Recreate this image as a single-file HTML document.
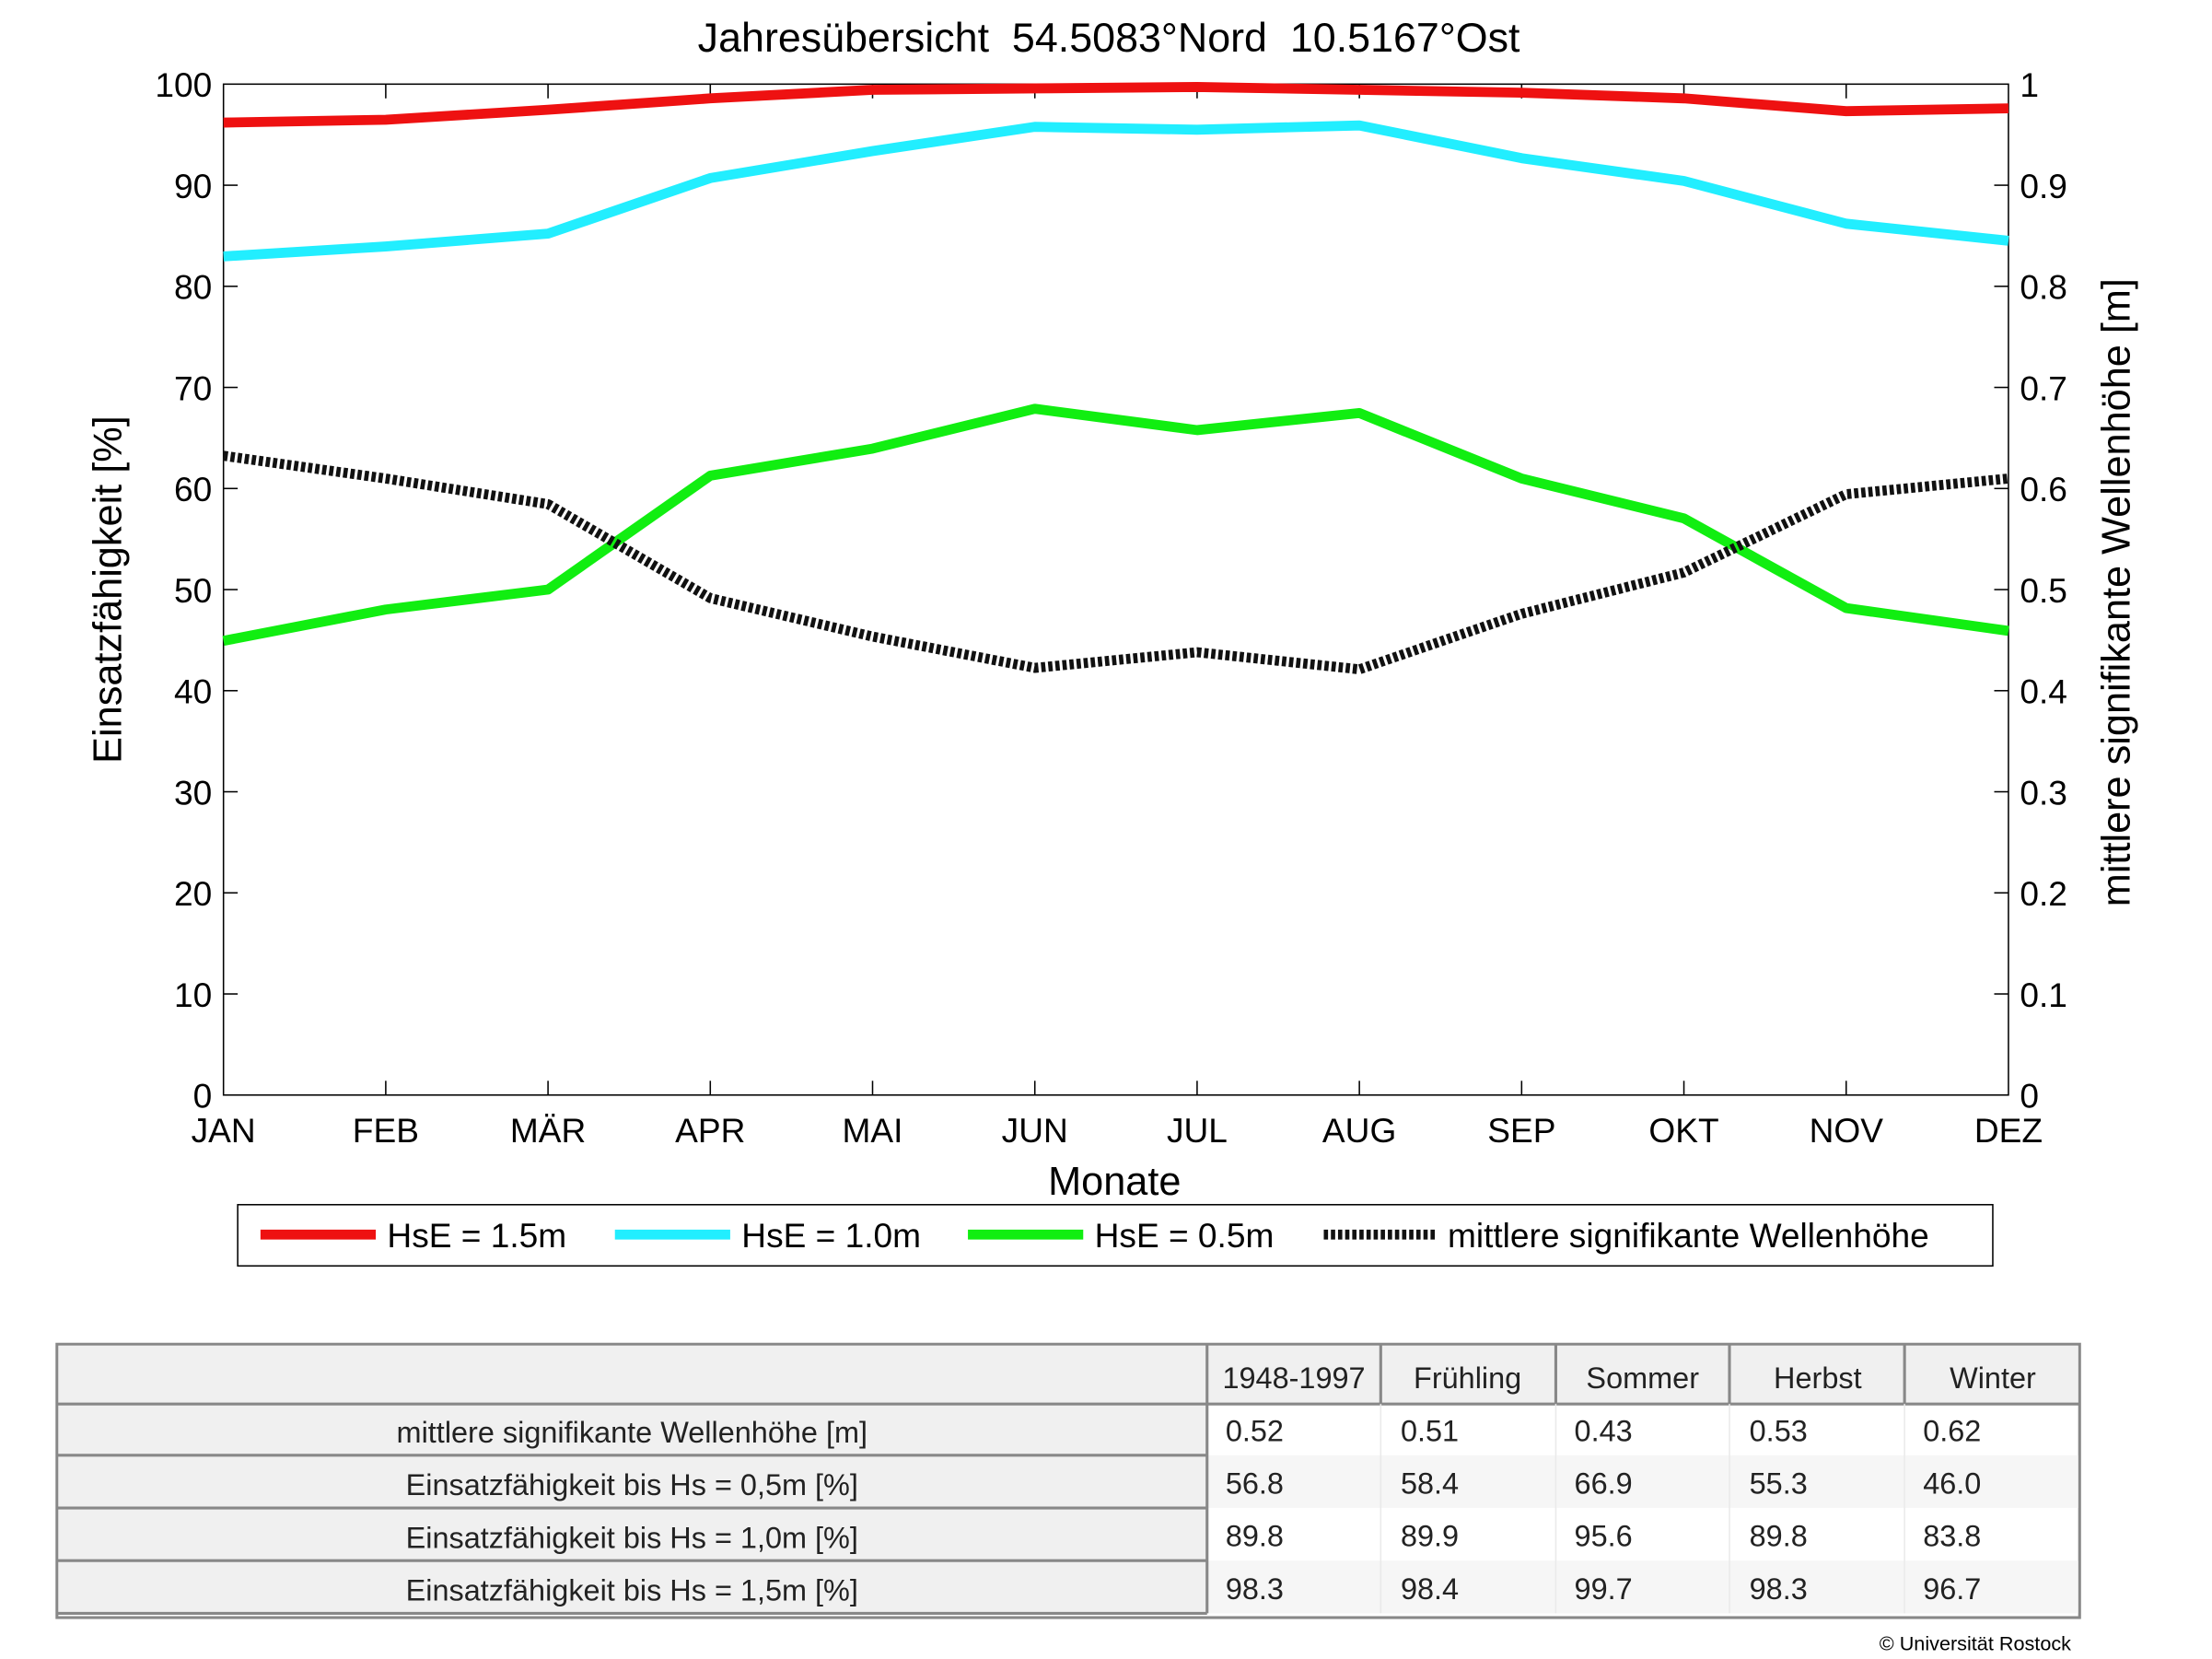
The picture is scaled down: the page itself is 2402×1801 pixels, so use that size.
<!DOCTYPE html>
<html><head><meta charset="utf-8"><style>html,body{margin:0;padding:0;background:#fff}svg{display:block}</style></head>
<body>
<svg width="2402" height="1801" viewBox="0 0 1554 1165" xmlns="http://www.w3.org/2000/svg" font-family="'Liberation Sans', Arial, sans-serif">
<rect width="1554" height="1165" fill="#fff"/>
<text x="779" y="36" font-size="29" text-anchor="middle">Jahresübersicht&#160;&#160;54.5083°Nord&#160;&#160;10.5167°Ost</text>
<rect x="157" y="59" width="1254" height="710" fill="none" stroke="#000" stroke-width="1"/>
<g stroke="#000" stroke-width="1">
<line x1="157" y1="130" x2="167" y2="130"/><line x1="157" y1="201" x2="167" y2="201"/><line x1="157" y1="272" x2="167" y2="272"/><line x1="157" y1="343" x2="167" y2="343"/><line x1="157" y1="414" x2="167" y2="414"/><line x1="157" y1="485" x2="167" y2="485"/><line x1="157" y1="556" x2="167" y2="556"/><line x1="157" y1="627" x2="167" y2="627"/><line x1="157" y1="698" x2="167" y2="698"/>
<line x1="1401" y1="130" x2="1411" y2="130"/><line x1="1401" y1="201" x2="1411" y2="201"/><line x1="1401" y1="272" x2="1411" y2="272"/><line x1="1401" y1="343" x2="1411" y2="343"/><line x1="1401" y1="414" x2="1411" y2="414"/><line x1="1401" y1="485" x2="1411" y2="485"/><line x1="1401" y1="556" x2="1411" y2="556"/><line x1="1401" y1="627" x2="1411" y2="627"/><line x1="1401" y1="698" x2="1411" y2="698"/>
<line x1="271" y1="769" x2="271" y2="759"/><line x1="385" y1="769" x2="385" y2="759"/><line x1="499" y1="769" x2="499" y2="759"/><line x1="613" y1="769" x2="613" y2="759"/><line x1="727" y1="769" x2="727" y2="759"/><line x1="841" y1="769" x2="841" y2="759"/><line x1="955" y1="769" x2="955" y2="759"/><line x1="1069" y1="769" x2="1069" y2="759"/><line x1="1183" y1="769" x2="1183" y2="759"/><line x1="1297" y1="769" x2="1297" y2="759"/>
<line x1="271" y1="59" x2="271" y2="69"/><line x1="385" y1="59" x2="385" y2="69"/><line x1="499" y1="59" x2="499" y2="69"/><line x1="613" y1="59" x2="613" y2="69"/><line x1="727" y1="59" x2="727" y2="69"/><line x1="841" y1="59" x2="841" y2="69"/><line x1="955" y1="59" x2="955" y2="69"/><line x1="1069" y1="59" x2="1069" y2="69"/><line x1="1183" y1="59" x2="1183" y2="69"/><line x1="1297" y1="59" x2="1297" y2="69"/>
</g>
<g font-size="24" text-anchor="end">
<text x="149" y="68">100</text><text x="149" y="139">90</text><text x="149" y="210">80</text><text x="149" y="281">70</text><text x="149" y="352">60</text><text x="149" y="423">50</text><text x="149" y="494">40</text><text x="149" y="565">30</text><text x="149" y="636">20</text><text x="149" y="707">10</text><text x="149" y="778">0</text>
</g>
<g font-size="24">
<text x="1419" y="68">1</text><text x="1419" y="139">0.9</text><text x="1419" y="210">0.8</text><text x="1419" y="281">0.7</text><text x="1419" y="352">0.6</text><text x="1419" y="423">0.5</text><text x="1419" y="494">0.4</text><text x="1419" y="565">0.3</text><text x="1419" y="636">0.2</text><text x="1419" y="707">0.1</text><text x="1419" y="778">0</text>
</g>
<g font-size="24" text-anchor="middle">
<text x="157" y="802">JAN</text><text x="271" y="802">FEB</text><text x="385" y="802">MÄR</text><text x="499" y="802">APR</text><text x="613" y="802">MAI</text><text x="727" y="802">JUN</text><text x="841" y="802">JUL</text><text x="955" y="802">AUG</text><text x="1069" y="802">SEP</text><text x="1183" y="802">OKT</text><text x="1297" y="802">NOV</text><text x="1411" y="802">DEZ</text>
</g>
<text x="783" y="839" font-size="28" text-anchor="middle">Monate</text>
<text transform="translate(85,414) rotate(-90)" font-size="28" text-anchor="middle">Einsatzfähigkeit [%]</text>
<text transform="translate(1496,416) rotate(-90)" font-size="28" text-anchor="middle">mittlere signifikante Wellenhöhe [m]</text>
<g fill="none" stroke-width="7" stroke-linejoin="round">
<polyline stroke="#ee1111" points="157,86 271,84 385,77 499,69 613,63 727,62 841,61 955,63 1069,65 1183,69 1297,78 1411,76"/>
<polyline stroke="#22eeff" points="157,180 271,173 385,164 499,125 613,106 727,89 841,91 955,88 1069,111 1183,127 1297,157 1411,169"/>
<polyline stroke="#11ee11" points="157,450 271,428 385,414 499,334 613,315 727,287 841,302 955,290 1069,336 1183,364 1297,427 1411,443"/>
<polyline stroke="#111" stroke-dasharray="3,2" points="157,320 271,336 385,354 499,420 613,447 727,469 841,458 955,470 1069,431 1183,402 1297,347 1411,336"/>
</g>
<rect x="167" y="846" width="1233" height="43" fill="#fff" stroke="#000" stroke-width="1"/>
<g stroke-width="7">
<line x1="183" y1="867" x2="264" y2="867" stroke="#ee1111"/>
<line x1="432" y1="867" x2="513" y2="867" stroke="#22eeff"/>
<line x1="680" y1="867" x2="761" y2="867" stroke="#11ee11"/>
<line x1="930" y1="867" x2="1008" y2="867" stroke="#111" stroke-dasharray="3,2"/>
</g>
<g font-size="24"><text x="272" y="876">HsE = 1.5m</text><text x="521" y="876">HsE = 1.0m</text><text x="769" y="876">HsE = 0.5m</text><text x="1017" y="876">mittlere signifikante Wellenhöhe</text></g>
<rect x="40" y="944" width="1421" height="192" fill="#fff" stroke="#888" stroke-width="2"/>
<rect x="41" y="945" width="1419" height="41" fill="#f0f0f0"/>
<rect x="41" y="986" width="807" height="146" fill="#f0f0f0"/>
<rect x="848" y="1022" width="612" height="37" fill="#f6f6f6"/>
<rect x="848" y="1096" width="612" height="37" fill="#f6f6f6"/>
<g stroke="#888" stroke-width="2">
<line x1="40" y1="986" x2="1461" y2="986"/>
<line x1="40" y1="1022" x2="848" y2="1022"/><line x1="40" y1="1059" x2="848" y2="1059"/><line x1="40" y1="1096" x2="848" y2="1096"/><line x1="40" y1="1133" x2="848" y2="1133"/>
<line x1="848" y1="944" x2="848" y2="1133"/>
<line x1="970" y1="944" x2="970" y2="986"/><line x1="1093" y1="944" x2="1093" y2="986"/><line x1="1215" y1="944" x2="1215" y2="986"/><line x1="1338" y1="944" x2="1338" y2="986"/>
</g>
<g stroke="#eaeaea" stroke-width="1"><line x1="970" y1="986" x2="970" y2="1133"/><line x1="1093" y1="986" x2="1093" y2="1133"/><line x1="1215" y1="986" x2="1215" y2="1133"/><line x1="1338" y1="986" x2="1338" y2="1133"/></g>
<g font-size="21" fill="#222" font-family="'Liberation Sans Narrow','Liberation Sans',sans-serif">
<text x="909" y="975" text-anchor="middle">1948-1997</text><text x="1031" y="975" text-anchor="middle">Frühling</text><text x="1154" y="975" text-anchor="middle">Sommer</text><text x="1277" y="975" text-anchor="middle">Herbst</text><text x="1400" y="975" text-anchor="middle">Winter</text>
<g text-anchor="middle"><text x="444" y="1013">mittlere signifikante Wellenhöhe [m]</text><text x="444" y="1050">Einsatzfähigkeit bis Hs = 0,5m [%]</text><text x="444" y="1087">Einsatzfähigkeit bis Hs = 1,0m [%]</text><text x="444" y="1124">Einsatzfähigkeit bis Hs = 1,5m [%]</text></g>
<text x="861" y="1012">0.52</text><text x="984" y="1012">0.51</text><text x="1106" y="1012">0.43</text><text x="1229" y="1012">0.53</text><text x="1351" y="1012">0.62</text>
<text x="861" y="1049">56.8</text><text x="984" y="1049">58.4</text><text x="1106" y="1049">66.9</text><text x="1229" y="1049">55.3</text><text x="1351" y="1049">46.0</text>
<text x="861" y="1086">89.8</text><text x="984" y="1086">89.9</text><text x="1106" y="1086">95.6</text><text x="1229" y="1086">89.8</text><text x="1351" y="1086">83.8</text>
<text x="861" y="1123">98.3</text><text x="984" y="1123">98.4</text><text x="1106" y="1123">99.7</text><text x="1229" y="1123">98.3</text><text x="1351" y="1123">96.7</text>
</g>
<text x="1455" y="1159" font-size="14" text-anchor="end">© Universität Rostock</text>
</svg>
</body></html>
